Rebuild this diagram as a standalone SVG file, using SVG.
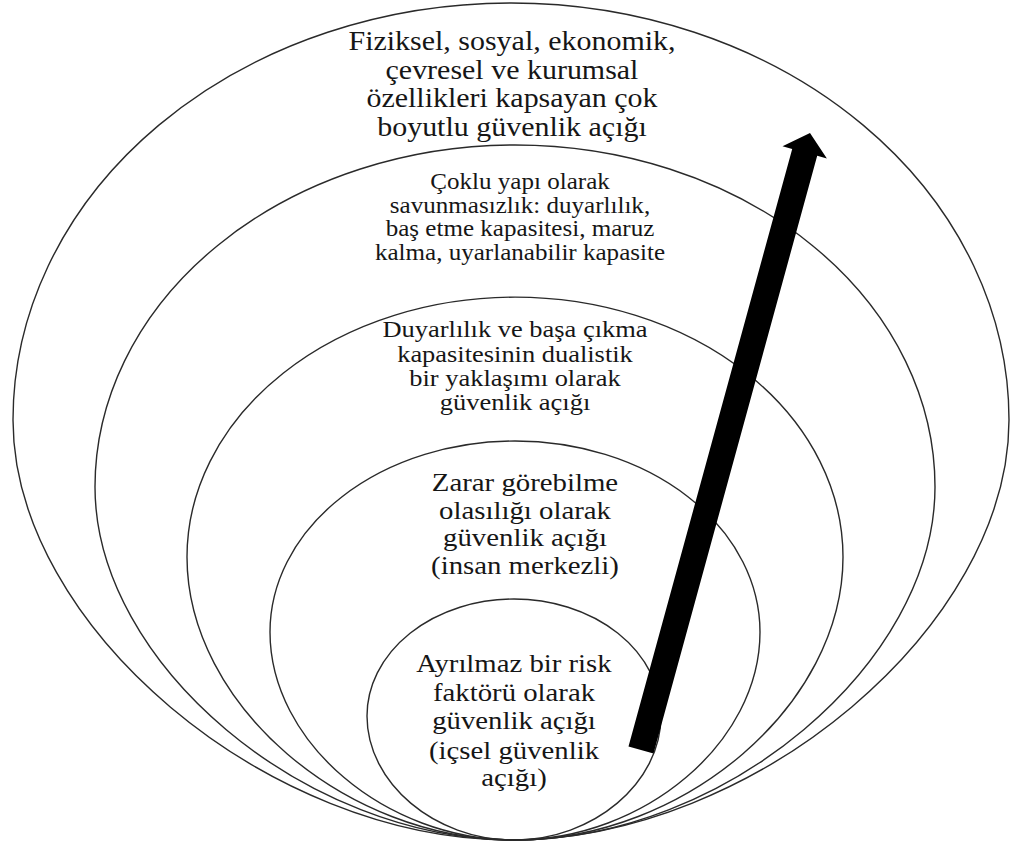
<svg xmlns="http://www.w3.org/2000/svg" width="1011" height="844" viewBox="0 0 1011 844">
<style>
.ring{fill:none;stroke:#2a2a2a;stroke-width:1.4}
.t{font-family:"Liberation Serif","Times New Roman",serif;fill:#161616;text-anchor:middle}
</style>
<rect width="1011" height="844" fill="#ffffff"/>
<g id="ring1"><path class="ring" d="M13,420 A498,417 0 0 1 1009,420 C1009,625.8 755,840 511,840 C267,840 13,625.8 13,420 Z"/></g>
<g id="ring2"><path class="ring" d="M95,487 A420,342 0 0 1 935,487 C935,663.5 725,840 515,840 C305,840 95,663.5 95,487 Z"/></g>
<g id="ring3"><path class="ring" d="M187,557 A328,260 0 0 1 843,557 C843,704.2 685.6,840 515,840 C344.4,840 187,704.2 187,557 Z"/></g>
<g id="ring4"><path class="ring" d="M270,632 A245,191 0 0 1 760,632 C760,742.2 644.9,840 515,840 C385.1,840 270,742.2 270,632 Z"/></g>
<g id="ring5"><path class="ring" d="M367,716 A147,117 0 0 1 661,716 C661,783 593.4,840 514,840 C434.6,840 367,783 367,716 Z"/></g>
<g id="label1" transform="translate(512 0) scale(1.09 1)">
<text class="t" font-size="27.5"><tspan x="0" y="50">Fiziksel, sosyal, ekonomik,</tspan><tspan x="0" y="79">çevresel ve kurumsal</tspan><tspan x="0" y="107">özellikleri kapsayan çok</tspan><tspan x="0" y="136">boyutlu güvenlik açığı</tspan></text>
</g>
<g id="label2" transform="translate(520 0) scale(1.09 1)">
<text class="t" font-size="23"><tspan x="0" y="189">Çoklu yapı olarak</tspan><tspan x="0" y="213">savunmasızlık: duyarlılık,</tspan><tspan x="0" y="236">baş etme kapasitesi, maruz</tspan><tspan x="0" y="260">kalma, uyarlanabilir kapasite</tspan></text>
</g>
<g id="label3" transform="translate(515 0) scale(1.15 1)">
<text class="t" font-size="23"><tspan x="0" y="337">Duyarlılık ve başa çıkma</tspan><tspan x="0" y="362">kapasitesinin dualistik</tspan><tspan x="0" y="386">bir yaklaşımı olarak</tspan><tspan x="0" y="410">güvenlik açığı</tspan></text>
</g>
<g id="label4" transform="translate(525 0) scale(1.13 1)">
<text class="t" font-size="25.5"><tspan x="0" y="491">Zarar görebilme</tspan><tspan x="0" y="519">olasılığı olarak</tspan><tspan x="0" y="546">güvenlik açığı</tspan><tspan x="0" y="574">(insan merkezli)</tspan></text>
</g>
<g id="label5" transform="translate(514 0) scale(1.15 1)">
<text class="t" font-size="25"><tspan x="0" y="672">Ayrılmaz bir risk</tspan><tspan x="0" y="701">faktörü olarak</tspan><tspan x="0" y="729">güvenlik açığı</tspan><tspan x="0" y="759">(içsel güvenlik</tspan><tspan x="0" y="786">açığı)</tspan></text>
</g>
<g id="connectors">
<polygon fill="#000000" points="628.5,746.6 792.2,148.9 782.5,146.2 810,133 826.9,158.4 817.2,155.7 653.5,753.4"/>
</g>
</svg>
